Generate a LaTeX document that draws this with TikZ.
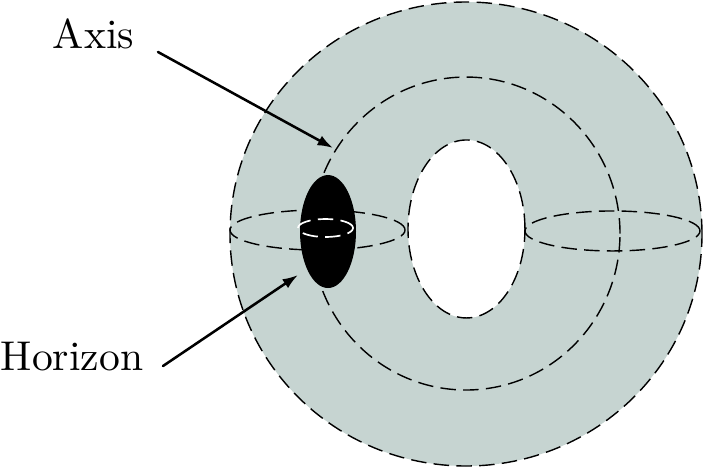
\documentclass[tikz,border=0pt]{standalone}
\usepackage{amsmath}
\usepackage{tikz}
\usepackage{tkz-euclide}
\usetikzlibrary{calc}
\usetikzlibrary{arrows.meta}
\definecolor{torusgray}{RGB}{198,212,209}
\tikzset{
  torusline/.style={dash pattern=on 5.5pt off 2.6pt, line width=0.5pt},
  pointer/.style={line width=0.9pt, -{Latex[length=5.5pt,width=3.8pt]}},
  tag/.style={font=\normalsize, transform shape, scale=1.48, inner sep=0pt, anchor=base west}
}

\begin{document}
\begin{tikzpicture}[scale=1.0]
                \useasboundingbox (0,0) rectangle (8.8,5.85);

                \tkzDefPoint(5.825,2.925){O}
                \tkzDefPoint(5.831,2.988){H}
                \tkzDefPoint(5.825,2.931){C}
                \tkzDefPoint(3.969,2.975){L}
                \tkzDefPoint(7.656,2.963){R}
                \tkzDefPoint(4.1,2.956){B}
                \tkzDefPoint(4.069,3.0){W}

                % torus body
                \fill[torusgray] (O) ellipse [x radius=2.95, y radius=2.9];
                \fill[white] (H) ellipse [x radius=0.731, y radius=1.1125];
                \draw[torusline] (O) ellipse [x radius=2.95, y radius=2.9];
                \draw[torusline] (H) ellipse [x radius=0.731, y radius=1.1125];

                % core circle and cross sections
                \draw[torusline] (C) ellipse [x radius=1.925, y radius=1.956];
                \draw[torusline] (L) ellipse [x radius=1.094, y radius=0.25];
                \draw[torusline] (R) ellipse [x radius=1.094, y radius=0.25];

                % horizon
                \fill[black] (B) ellipse [x radius=0.35, y radius=0.706];
                \draw[torusline,white,line width=0.6pt] (W) ellipse [x radius=0.344, y radius=0.1125];

                % labels
                \node[tag] (axis) at (0.65,5.25) {Axis};
                \node[tag] (horizon) at (0,1.225) {Horizon};

                \tkzDefPoint(1.975,5.2){A1}
                \tkzDefPoint(4.1625,4.0){A2}
                \tkzDefPoint(2.0375,1.275){H1}
                \tkzDefPoint(3.725,2.4125){H2}

                \tkzDrawSegment[pointer](A1,A2)
                \tkzDrawSegment[pointer](H1,H2)
            \end{tikzpicture}
\end{document}
